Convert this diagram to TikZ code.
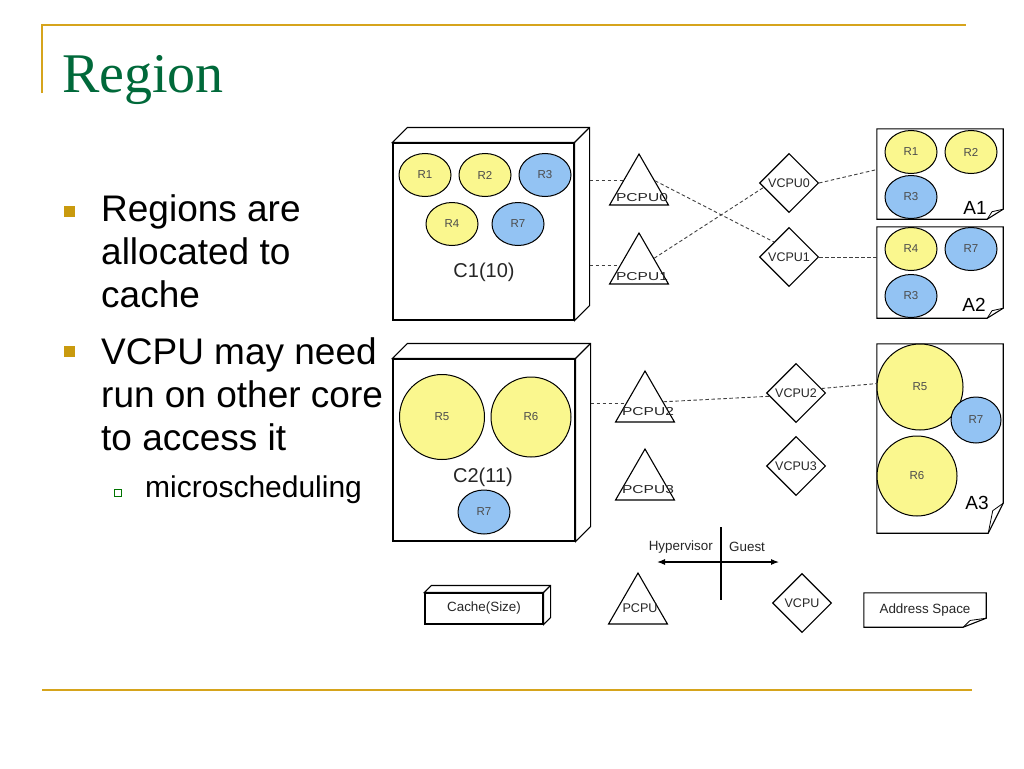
\documentclass[tikz,border=0pt]{standalone}
\usepackage{fontspec}
\setmainfont{Liberation Sans}
\newfontfamily\titlefont{Liberation Serif}
\newfontfamily\widefont[FakeStretch=1.35]{Liberation Sans}
\usetikzlibrary{shapes.geometric, arrows, arrows.meta, positioning, calc}
\definecolor{slide_gold}{HTML}{D6A41C}
\definecolor{slide_green}{HTML}{00693A}
\definecolor{bullet_gold}{HTML}{C99A0E}
\definecolor{region_yellow}{HTML}{FAF78E}
\definecolor{region_blue}{HTML}{93C3F3}
\tikzset{
  bulletline/.style={anchor=base west,inner sep=0,font=\fontsize{37}{37}\selectfont},
  bulletbox/.style={fill=bullet_gold,minimum size=11,inner sep=0},
  cache/.style={draw,fill=white,line width=1.1pt,inner sep=0},
  cachelabel/.style={inner sep=0,font=\fontsize{20}{20}\selectfont,text=black!85},
  region/.style={ellipse,draw,line width=1pt,inner sep=0,minimum width=52,minimum height=43,font=\fontsize{11.5}{11.5}\selectfont,text=black!70},
  regiony/.style={region,fill=region_yellow},
  regionb/.style={region,fill=region_blue},
  pcpu/.style={regular polygon,regular polygon sides=3,draw,line width=1.1pt,minimum size=68,inner sep=0},
  pcpulabel/.style={inner sep=0,font=\widefont\fontsize{11.5}{11.5}\selectfont,text=black!85},
  vcpu/.style={diamond,draw,line width=1.1pt,minimum width=59,minimum height=59,inner sep=0,font=\fontsize{12.5}{12.5}\selectfont,text=black!85},
  addr/.style={inner sep=0},
  addrlabel/.style={inner sep=0,font=\fontsize{19}{19}\selectfont},
  legend/.style={inner sep=0,font=\fontsize{13.4}{13.4}\selectfont,text=black!85},
  link/.style={dash pattern=on 3.5pt off 2.5pt,black!75,line width=.9pt},
}
% top and side faces of a cache box
\newcommand{\cacheside}[2]{%
  \draw[line width=1.1pt,fill=white] (#1.north west) -- ++(#2,-#2) -- ($(#1.north east)+(#2,-#2)$)
    -- ($(#1.south east)+(#2,-#2)$) -- (#1.south east) -- (#1.north east) -- cycle;
  \draw[line width=1.1pt] (#1.north east) -- ++(#2,-#2);
}
% address space page with folded corner
\newcommand{\pagefold}[3]{%
  \draw[line width=1.1pt] (#1.north west) -- (#1.north east) -- ($(#1.south east)+(0,-#3)$)
    -- ($(#1.south east)+(-#2,0)$) -- (#1.south west) -- cycle;
  \draw[line width=.8pt] ($(#1.south east)+(-#2,0)$) -- ($(#1.south east)+(-#2*0.7,-#3*0.75)$)
    -- ($(#1.south east)+(0,-#3)$);
}

\begin{document}
\begin{tikzpicture}[x=1pt,y=-1pt]
  \useasboundingbox (0,0) rectangle (1024,768);
  \fill[white] (0,0) rectangle (1024,768);

  % slide frame and title
  \draw[slide_gold,line width=2pt] (42,93) -- (42,25) -- (966,25);
  \draw[slide_gold,line width=2pt] (42,690) -- (972,690);
  \node[anchor=base west,inner sep=0,text=slide_green,font=\titlefont\fontsize{56}{56}\selectfont] (title) at (62,92) {Region};

  % bullets
  \node[bulletbox] (b1) at (69,211) {};
  \node[bulletline] (l1) at (101,221) {Regions are};
  \node[bulletline] (l2) at (101,264) {allocated to};
  \node[bulletline] (l3) at (101,307) {cache};
  \node[bulletbox] (b2) at (69,351) {};
  \node[bulletline] (l4) at (101,364) {VCPU may need};
  \node[bulletline] (l5) at (101,407) {run on other core};
  \node[bulletline] (l6) at (101,450) {to access it};
  \node[draw=green!45!black,fill=white,line width=.9pt,minimum size=7,inner sep=0] (b3) at (118,493) {};
  \node[bulletline,font=\fontsize{30}{30}\selectfont] (l7) at (145,497) {microscheduling};

  % cache C1
  \node[cache,minimum width=181,minimum height=177] (c1) at (483.5,231.5) {};
  \cacheside{c1}{15}
  \node[regiony] (c1r1) at (425,175) {R1};
  \node[regiony,right=7pt of c1r1] (c1r2) {R2};
  \node[regionb,right=7pt of c1r2] (c1r3) {R3};
  \node[regiony] (c1r4) at (452,224) {R4};
  \node[regionb,right=13pt of c1r4] (c1r7) {R7};
  \node[cachelabel] (c1t) at (484,272) {C1(10)};

  % cache C2
  \node[cache,minimum width=182,minimum height=182] (c2) at (484,450) {};
  \cacheside{c2}{15}
  \node[regiony,minimum width=85,minimum height=85] (c2r5) at (442,417) {R5};
  \node[regiony,minimum width=80,minimum height=80] (c2r6) at (531,417) {R6};
  \node[cachelabel] (c2t) at (483,477) {C2(11)};
  \node[regionb,minimum height=44] (c2r7) at (484,512) {R7};

  % physical cpus
  \node[pcpu] (p0) at (639,188) {};
  \node[pcpulabel] (p0t) at ($(p0)+(3,10)$) {PCPU0};
  \node[pcpu] (p1) at (639,267) {};
  \node[pcpulabel] (p1t) at ($(p1)+(3,10)$) {PCPU1};
  \node[pcpu] (p2) at (645,405) {};
  \node[pcpulabel] (p2t) at ($(p2)+(3,7)$) {PCPU2};
  \node[pcpu] (p3) at (645,483) {};
  \node[pcpulabel] (p3t) at ($(p3)+(3,7)$) {PCPU3};

  % virtual cpus
  \node[vcpu] (v0) at (789,183) {VCPU0};
  \node[vcpu] (v1) at (789,257) {VCPU1};
  \node[vcpu] (v2) at (796,393) {VCPU2};
  \node[vcpu] (v3) at (796,466) {VCPU3};

  % address spaces
  \node[addr,minimum width=126,minimum height=90] (a1) at (940,174) {};
  \pagefold{a1}{16}{10}
  \node[regiony] (a1r1) at (911,152) {R1};
  \node[regiony,right=7pt of a1r1] (a1r2) {R2};
  \node[regionb] (a1r3) at (911,197) {R3};
  \node[addrlabel] (a1t) at (975,208) {A1};

  \node[addr,minimum width=126,minimum height=91] (a2) at (940,272.5) {};
  \pagefold{a2}{16}{10}
  \node[regiony] (a2r4) at (911,249) {R4};
  \node[regionb,right=7pt of a2r4] (a2r7) {R7};
  \node[regionb] (a2r3) at (911,296) {R3};
  \node[addrlabel] (a2t) at (974,305) {A2};

  \node[addr,minimum width=126,minimum height=189] (a3) at (940,438.5) {};
  \pagefold{a3}{15}{30}
  \node[regiony,minimum width=86,minimum height=86] (a3r5) at (920,387) {R5};
  \node[regionb,minimum width=50,minimum height=46] (a3r7) at (976,420) {R7};
  \node[regiony,minimum width=80,minimum height=80] (a3r6) at (917,476) {R6};
  \node[addrlabel] (a3t) at (977,503) {A3};

  % mappings
  \coordinate (c1r) at ($(c1.east)+(15,0)$);
  \coordinate (c2r) at ($(c2.east)+(15,0)$);
  \draw[link] (c1r |- p0.156) -- (p0.156);
  \draw[link] (c1r |- p1.176) -- (p1.176);
  \draw[link] (c2r |- p2.175) -- (p2.175);
  \draw[link] (p0.24) -- (v1.135);
  \draw[link] (p1.30) -- (v0.190);
  \draw[link] (p2.10) -- (v2.187);
  \draw[link] (v0.east) -- (a1.176);
  \draw[link] (v1.east) -- (v1.east -| a2.west);
  \draw[link] (v2.10) -- (a3.139);

  % hypervisor / guest axis
  \coordinate (axtop) at (721,527);
  \coordinate (axbot) at (721,600);
  \coordinate (axl) at (657,562);
  \coordinate (axr) at (779,562);
  \draw[line width=1.1pt] (axtop) -- (axbot);
  \draw[{Latex[length=8pt,width=6pt]}-{Latex[length=8pt,width=6pt]},line width=1.1pt] (axl) -- (axr);
  \node[legend,anchor=east] (hyp) at (713,547) {Hypervisor};
  \node[legend,anchor=west] (guest) at (729,547) {Guest};

  % legend
  \node[cache,minimum width=118,minimum height=31,font=\fontsize{13.4}{13.4}\selectfont,text=black!85] (lc) at (484,608.5) {Cache(Size)};
  \cacheside{lc}{7}
  \node[pcpu] (lp) at (638,607) {};
  \node[legend,font=\fontsize{12.6}{12.6}\selectfont] (lpt) at (640,608) {PCPU};
  \node[vcpu] (lv) at (802,603) {VCPU};
  \node[addr,minimum width=122,minimum height=34,legend] (la) at (925,610) {Address Space};
  \pagefold{la}{23}{9}
\end{tikzpicture}
\end{document}
